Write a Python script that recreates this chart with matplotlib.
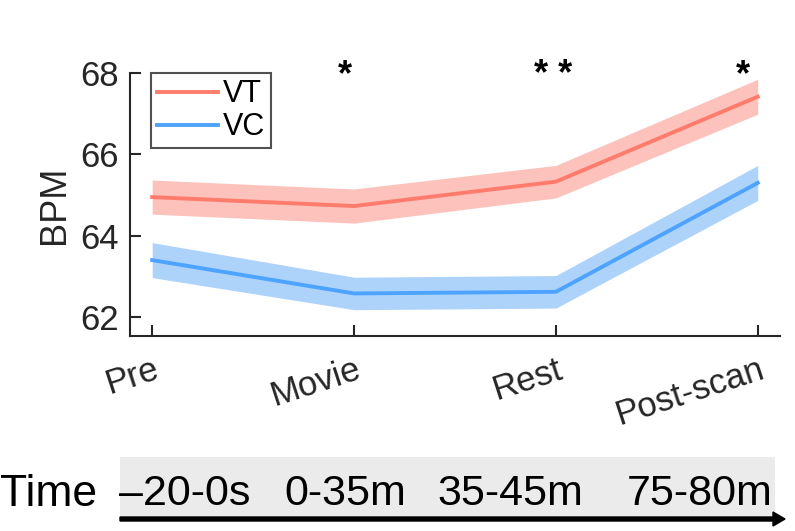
import matplotlib
matplotlib.use("Agg")
import matplotlib.pyplot as plt
import numpy as np
from matplotlib.patches import Rectangle, FancyArrow

plt.rcParams['font.family'] = ['Liberation Sans', 'DejaVu Sans']

conditions = ["Pre", "Movie", "Rest", "Post-scan"]
vt_mean = [64.95, 64.73, 65.33, 67.42]
vt_err = [0.42, 0.42, 0.40, 0.43]
vc_mean = [63.40, 62.58, 62.62, 65.30]
vc_err = [0.43, 0.40, 0.40, 0.43]
stars = ["", "*", "* *", "*"]
time_labels = ["\u201320-0s", "0-35m", "35-45m", "75-80m"]

vt_line = "#FF7B6B"
vt_fill = "#FDC2BC"
vc_line = "#4DA3FF"
vc_fill = "#ADD3FB"
ink = "#262626"

fig = plt.figure(figsize=(7.95, 5.31), dpi=100)
ax = fig.add_axes([0.1635, 0.367, 0.8176, 0.4953])

x = np.arange(1, len(conditions) + 1)
vt_mean_a = np.array(vt_mean); vt_err_a = np.array(vt_err)
vc_mean_a = np.array(vc_mean); vc_err_a = np.array(vc_err)

ax.fill_between(x, vt_mean_a - vt_err_a, vt_mean_a + vt_err_a, color=vt_fill, lw=0)
ax.fill_between(x, vc_mean_a - vc_err_a, vc_mean_a + vc_err_a, color=vc_fill, lw=0)
ax.plot(x, vt_mean_a, color=vt_line, lw=2.8, label="VT")
ax.plot(x, vc_mean_a, color=vc_line, lw=2.8, label="VC")

ax.set_xlim(0.89, 4.11)
ax.set_ylim(61.53, 68.0)
ax.set_yticks([62, 64, 66, 68])
ax.set_xticks(x)
ax.set_xticklabels(conditions, rotation=18, ha="right", rotation_mode="anchor")
ax.tick_params(axis="both", direction="in", length=8, width=1.5, colors=ink,
               labelsize=25, labelcolor=ink)
ax.tick_params(axis="x", pad=12)
ax.tick_params(axis="y", pad=8)
for s in ["top", "right"]:
    ax.spines[s].set_visible(False)
for s in ["left", "bottom"]:
    ax.spines[s].set_linewidth(1.5)
    ax.spines[s].set_color(ink)
ax.set_ylabel("BPM", fontsize=26, color=ink, labelpad=6)

offsets = [0, -0.045, -0.015, -0.075]
for xi, st, off in zip(x, stars, offsets):
    if st:
        ax.text(xi + off, 67.5, st, ha="center", va="bottom", fontsize=26,
                fontweight="bold", color="black", clip_on=False, transform=ax.transData)

leg = ax.legend(loc="upper left", bbox_to_anchor=(0.032, 1.0), fontsize=22,
                handlelength=2.0, handletextpad=0.15, borderpad=0.2,
                labelspacing=0.1, frameon=True, fancybox=False, borderaxespad=0)
leg.get_frame().set_edgecolor(ink)
leg.get_frame().set_linewidth(1.5)

# Time row
W, H = 795, 531
fig.patches.append(Rectangle((120 / W, 1 - 517 / H), (775 - 120) / W, (517 - 457) / H,
                             transform=fig.transFigure, facecolor="#EBEBEB", edgecolor="none"))
fig.text(0 / W, 1 - 494 / H, "Time", fontsize=32, ha="left", va="center")
centers = [185, 345, 510, 700]
for c, lab in zip(centers, time_labels):
    fig.text(c / W, 1 - 494 / H, lab, fontsize=31, ha="center", va="center")
fig.patches.append(FancyArrow(120 / W, 1 - 519 / H, (785 - 120) / W, 0,
                              width=4 / H, head_width=14 / H, head_length=12 / W,
                              length_includes_head=True, transform=fig.transFigure,
                              color="black"))

fig.savefig("out.png", dpi=100)
